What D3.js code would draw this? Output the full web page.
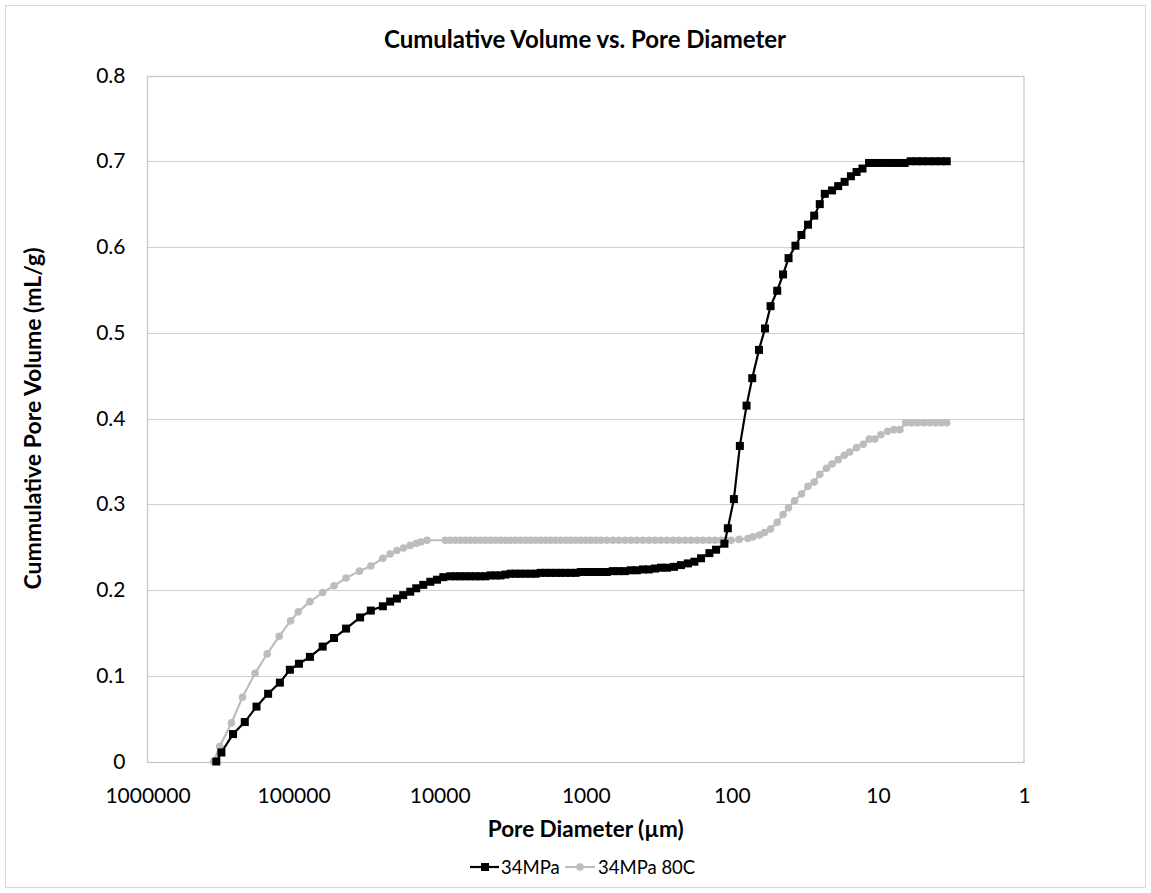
<!DOCTYPE html>
<html><head><meta charset="utf-8">
<script src="https://cdn.jsdelivr.net/npm/d3@7/dist/d3.min.js"></script>
<style>
html,body{margin:0;padding:0;background:#fff;}
text{font-family:Lato,"Liberation Sans",Arial,sans-serif;fill:#000;}
</style></head>
<body>
<svg id="chart" width="1151" height="893"></svg>
<script>
// ---- data (pore diameter in µm, cumulative pore volume in mL/g) ----
const diam34 = [338000,311900,259700,215800,179400,149400,124100,106000,91900,77260,63200,52870,43730,
  35050,29600,24480,21820,19620,17760,15900,14460,12950,11590,10420,9440,8450,
  7810,7220,6665,6160,5690,5260,4860,4490,4150,3835,3543,3273,3024,2795,2582,2386,2204,2037,1882,1739,
  1607,1485,1372,1268,1171,1082,1000,924,854,789,718,653,594,540,491,447,406,370,336,306,278,249,223,
  200,180.5,162.4,142.4,128.2,112.4,106.5,96.8,88.1,79.3,72.5,65.2,59.3,54.3,48.9,44.6,40.9,36.7,33.4,
  30.1,27.3,25.0,23.1,20.6,18.7,16.9,15.3,14.0,12.75,11.5,10.5,9.59,8.72,7.93,7.21,6.56,5.97,5.43,4.94,
  4.49,4.08,3.71,3.38];
const vol34 = [0,0.0105,0.032,0.046,0.064,0.079,0.092,0.107,0.114,0.122,0.134,0.144,0.155,
  0.168,0.176,0.181,0.1865,0.190,0.194,0.198,0.202,0.206,0.2096,0.212,0.215,0.216,
  0.216,0.216,0.216,0.216,0.216,0.216,0.216,0.217,0.217,0.217,0.218,0.219,0.219,0.219,0.219,0.219,0.219,0.220,0.220,0.220,
  0.220,0.220,0.220,0.220,0.220,0.221,0.221,0.221,0.221,0.221,0.221,0.222,0.222,0.222,0.223,0.223,0.224,0.224,0.225,0.226,0.226,0.227,0.229,
  0.231,0.233,0.237,0.243,0.247,0.254,0.272,0.306,0.368,0.415,0.447,0.480,0.505,0.531,0.549,0.568,0.587,0.6015,0.614,
  0.626,0.6366,0.650,0.662,0.666,0.671,0.676,0.6825,0.6875,0.6915,0.698,0.698,0.698,0.698,0.698,0.698,0.698,0.700,0.700,0.700,
  0.700,0.700,0.700,0.700];

const diam80 = [352400,320400,266400,223800,183400,151700,125500,104800,92900,77260,63200,52870,43730,
  35440,29600,24480,21820,19620,17680,15900,14460,13430,12210,
  9145,8450,7810,7220,6665,6160,5690,5260,4860,4490,4150,3835,3543,3273,3024,2795,2582,2386,2204,2037,1882,1739,
  1607,1485,1372,1268,1171,1082,1000,924,854,789,718,653,594,540,491,447,406,370,336,306,278,
  252.8,229.9,209.1,190.2,173.0,157.3,143.1,130.2,118.4,109.4,101.1,89.1,
  77.6,71.7,64.6,59.7,54.3,48.9,44.6,40.9,37.2,33.4,30.1,27.3,25.0,22.5,20.6,18.7,17.0,15.6,14.0,12.6,
  11.47,10.5,9.54,8.59,7.77,7.07,6.46,5.87,5.34,4.86,4.42,4.02,3.66,3.38];
const vol80 = [0,0.0175,0.045,0.075,0.103,0.1255,0.146,0.164,0.1745,0.1865,0.197,0.205,0.214,
  0.222,0.228,0.237,0.242,0.246,0.249,0.252,0.2545,0.256,0.258,
  0.258,0.258,0.258,0.258,0.258,0.258,0.258,0.258,0.258,0.258,0.258,0.258,0.258,0.258,0.258,0.258,0.258,0.258,0.258,0.258,0.258,0.258,
  0.258,0.258,0.258,0.258,0.258,0.258,0.258,0.258,0.258,0.258,0.258,0.258,0.258,0.258,0.258,0.258,0.258,0.258,0.258,0.258,0.258,
  0.258,0.258,0.258,0.258,0.258,0.258,0.258,0.258,0.258,0.258,0.258,0.259,
  0.260,0.262,0.264,0.267,0.271,0.279,0.288,0.296,0.304,0.312,0.321,0.326,0.335,0.342,0.347,0.352,0.357,0.361,0.366,0.370,
  0.376,0.376,0.381,0.385,0.387,0.387,0.395,0.395,0.395,0.395,0.395,0.395,0.395,0.395];

const xTicks = [1000000,100000,10000,1000,100,10,1];
const yTicks = [0,0.1,0.2,0.3,0.4,0.5,0.6,0.7,0.8];
const seriesNames = ["34MPa","34MPa 80C"];
const chartTitle = "Cumulative Volume vs. Pore Diameter";
const xTitle = "Pore Diameter (µm)";
const yTitle = "Cummulative Pore Volume  (mL/g)";

// ---- layout ----
const W = 1151, H = 893;
const L = 147.5, R = 1024, T = 75.5, B = 761.5;
const svg = d3.select("#chart");

svg.append("rect").attr("x",5.5).attr("y",5.5).attr("width",W-11).attr("height",H-11)
  .attr("fill","#fff").attr("stroke","#d9d9d9").attr("stroke-width",1);

const x = d3.scaleLog().domain([1e6,1]).range([L,R]);
const y = d3.scaleLinear().domain([0,0.8]).range([B,T]);

// gridlines
svg.append("g").selectAll("line").data(yTicks).join("line")
  .attr("x1",L).attr("x2",R).attr("y1",d=>Math.round(y(d))+0.5).attr("y2",d=>Math.round(y(d))+0.5)
  .attr("stroke","#d0d0d0").attr("stroke-width",1.2);
// plot border
svg.append("rect").attr("x",L).attr("y",Math.round(T)+0.5).attr("width",R-L).attr("height",Math.round(B)-Math.round(T))
  .attr("fill","none").attr("stroke","#c4c4c4").attr("stroke-width",1.2);

// axes via d3 axis (labels only)
const xAxis = svg.append("g").attr("transform",`translate(0,${B})`)
  .call(d3.axisBottom(x).tickValues(xTicks).tickFormat(d3.format("d")).tickSize(0).tickPadding(27));
xAxis.select(".domain").remove();
xAxis.selectAll("text").attr("font-size",21).attr("font-family","Lato, sans-serif").attr("fill","#000");

const yAxis = svg.append("g").attr("transform",`translate(${L},0)`)
  .call(d3.axisLeft(y).tickValues(yTicks).tickFormat(d=>d===0?"0":d3.format(".1f")(d)).tickSize(0).tickPadding(22));
yAxis.select(".domain").remove();
yAxis.selectAll("text").attr("font-size",21).attr("font-family","Lato, sans-serif").attr("fill","#000");

// titles
svg.append("text").attr("x",585).attr("y",48).attr("text-anchor","middle")
  .attr("font-size",24).attr("font-weight","bold").text(chartTitle);
svg.append("text").attr("x",(L+R)/2).attr("y",837).attr("text-anchor","middle")
  .attr("font-size",22.5).attr("font-weight","bold").text(xTitle);
svg.append("text").attr("transform",`translate(41,${(T+B)/2}) rotate(-90)`).attr("text-anchor","middle")
  .attr("font-size",23).attr("font-weight","bold").text(yTitle);

// series
const s34 = diam34.map((d,i)=>({d, v:vol34[i]}));
const s80 = diam80.map((d,i)=>({d, v:vol80[i]}));
const line = d3.line().x(p=>x(p.d)).y(p=>y(p.v));
const grayC = "#bdbdbd";

svg.append("path").datum(s80).attr("d",line).attr("fill","none").attr("stroke",grayC).attr("stroke-width",2.2);
svg.append("g").selectAll("circle").data(s80).join("circle")
  .attr("cx",p=>x(p.d)).attr("cy",p=>y(p.v)).attr("r",3.8).attr("fill",grayC);

svg.append("path").datum(s34).attr("d",line).attr("fill","none").attr("stroke","#000").attr("stroke-width",2.2);
svg.append("g").selectAll("rect").data(s34).join("rect")
  .attr("x",p=>x(p.d)-4).attr("y",p=>y(p.v)-4).attr("width",8).attr("height",8).attr("fill","#000");

// legend
const lg = svg.append("g").attr("transform","translate(0,867)");
const b1 = lg.append("g");
b1.append("line").attr("x1",470).attr("x2",499).attr("y1",0).attr("y2",0).attr("stroke","#000").attr("stroke-width",2.2);
b1.append("rect").attr("x",481).attr("y",-4).attr("width",8).attr("height",8).attr("fill","#000");
b1.append("text").attr("x",501).attr("y",6.5).attr("font-size",18.5).text(seriesNames[0]);
const b2 = lg.append("g");
b2.append("line").attr("x1",565).attr("x2",595).attr("y1",0).attr("y2",0).attr("stroke",grayC).attr("stroke-width",2.2);
b2.append("circle").attr("cx",580).attr("cy",0).attr("r",3.8).attr("fill",grayC);
b2.append("text").attr("x",598).attr("y",6.5).attr("font-size",18.5).text(seriesNames[1]);
</script>
</body></html>
